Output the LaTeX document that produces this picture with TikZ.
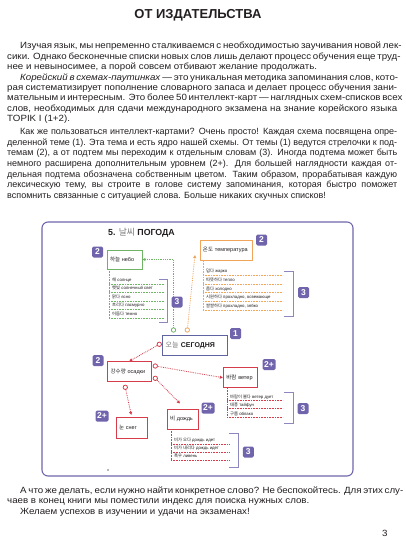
\documentclass[tikz,border=0pt]{standalone}
\usepackage{fontspec}
\setmainfont{Liberation Sans}
\newfontfamily\bodyfont[FakeStretch=1.08]{Liberation Sans}
\newfontfamily\kr{Noto Sans CJK KR}
\usetikzlibrary{arrows.meta}
\definecolor{txtC}{RGB}{35,31,32}
\definecolor{badgeC}{RGB}{112,100,172}
\definecolor{frameC}{RGB}{112,102,172}
\definecolor{brkC}{RGB}{140,135,190}
\definecolor{greenC}{RGB}{110,180,100}
\definecolor{orangeC}{RGB}{240,165,90}
\definecolor{redC}{RGB}{215,60,75}
\definecolor{centerC}{RGB}{95,100,160}
\definecolor{krgray}{RGB}{120,120,120}
\tikzset{
 body/.style={anchor=base west, inner sep=0pt, font=\bodyfont\fontsize{9}{10}\selectfont, text=txtC},
 bodyc/.style={anchor=base west, inner sep=0pt, font=\fontsize{9}{10}\selectfont, text=txtC},
 badge/.style={fill=badgeC, text=white, rounded corners=1.5pt, inner sep=0pt, minimum width=11pt, minimum height=11pt, font=\bfseries\fontsize{8.5}{8.5}\selectfont},
 wbox/.style={draw=#1, fill=white, line width=0.9pt, inner xsep=3pt, inner ysep=0pt, align=left, font=\fontsize{5.5}{6}\selectfont, text=txtC},
 item/.style={anchor=west, inner sep=0pt, font=\fontsize{4.3}{5}\selectfont, text=txtC},
 sep/.style={draw=#1, densely dotted, line width=0.6pt},
 brk/.style={draw=brkC, line width=0.8pt},
 port/.style={circle, draw=#1, fill=white, line width=0.8pt, inner sep=0pt, minimum size=4.4pt},
 link/.style={draw=#1, densely dotted, line width=0.8pt, -{Triangle[length=3pt,width=3pt]}},
}
\newcommand\jus[1]{\makebox[390pt][s]{#1}}
\begin{document}
\begin{tikzpicture}[x=1pt,y=-1pt]
\useasboundingbox (0,0) rectangle (405,540);
\fill[white] (0,0) rectangle (405,540);
% title
\node[inner sep=0pt, font=\bfseries\fontsize{13}{13}\selectfont, text=txtC] (title) at (198,15) {ОТ ИЗДАТЕЛЬСТВА};
% paragraphs 1-2
\node[body] (l1) at (7,49) {\jus{\hspace*{13pt}Изучая язык, мы непременно сталкиваемся с необходимостью заучивания новой лек-}};
\node[body] (l2) at (7,59.4) {\jus{сики. Однако бесконечные списки новых слов лишь делают процесс обучения еще труд-}};
\node[body] (l3) at (7,69.8) {нее и невыносимее, а порой совсем отбивают желание продолжать.};
\node[body] (l4) at (7,80.2) {\jus{\hspace*{13pt}\textit{Корейский в схемах-паутинках} — это уникальная методика запоминания слов, кото-}};
\node[body] (l5) at (7,90.6) {\jus{рая систематизирует пополнение словарного запаса и делает процесс обучения зани-}};
\node[body] (l6) at (7,101) {\jus{мательным и интересным. Это более 50 интеллект-карт — наглядных схем-списков всех}};
\node[body] (l7) at (7,111.4) {\jus{слов, необходимых для сдачи международного экзамена на знание корейского языка}};
\node[body] (l8) at (7,121.8) {TOPIK I (1+2).};
% paragraph 3
\node[bodyc] (m1) at (7,134.7) {\jus{\hspace*{13pt}Как же пользоваться интеллект-картами? Очень просто! Каждая схема посвящена опре-}};
\node[bodyc] (m2) at (7,145.35) {\jus{деленной теме (1). Эта тема и есть ядро нашей схемы. От темы (1) ведутся стрелочки к под-}};
\node[bodyc] (m3) at (7,156) {\jus{темам (2), а от подтем мы переходим к отдельным словам (3). Иногда подтема может быть}};
\node[bodyc] (m4) at (7,166.65) {\jus{немного расширена дополнительным уровнем (2+). Для большей наглядности каждая от-}};
\node[bodyc] (m5) at (7,177.3) {\jus{дельная подтема обозначена собственным цветом. Таким образом, прорабатывая каждую}};
\node[bodyc] (m6) at (7,187.95) {\jus{лексическую тему, вы строите в голове систему запоминания, которая быстро поможет}};
\node[bodyc] (m7) at (7,198.6) {вспомнить связанные с ситуацией слова. Больше никаких скучных списков!};
% bottom paragraphs
\node[body] (b1) at (7,493) {\jus{\hspace*{13pt}А что же делать, если нужно найти конкретное слово? Не беспокойтесь. Для этих слу-}};
\node[body] (b2) at (7,503.5) {чаев в конец книги мы поместили индекс для поиска нужных слов.};
\node[body] (b3) at (7,514) {\hspace*{13pt}Желаем успехов в изучении и удачи на экзаменах!};
\node[body] (pg) at (382,536) {3};
% frame
\draw[frameC, line width=1.1pt, rounded corners=6pt] (42,222) rectangle (353,476);
\node[anchor=west, inner sep=0pt, font=\fontsize{8.8}{9}\selectfont, text=txtC] (ftitle) at (108,233) {\textbf{5.} \textcolor{krgray}{\kr 날씨} \textbf{ПОГОДА}};
\node[inner sep=0pt, font=\fontsize{3}{3}\selectfont, text=txtC] (fpg) at (108.3,470) {8};
% --- sky (green)
\node[wbox=greenC, minimum height=19pt, text width=29pt] (sky) at (124.5,259.5) {\mbox{{\kr 하늘} небо}};
\node[badge] (bsky) at (97.5,252) {2};
\draw[sep=greenC] (109,269) -- (109,318.3);
\foreach \yy in {284.3,292.7,301,309.3,318.3} \draw[sep=greenC] (109,\yy) -- (164,\yy);
\node[item] (s1) at (112,280) {{\kr 해} солнце};
\node[item] (s2) at (112,288.3) {{\kr 햇빛} солнечный свет};
\node[item] (s3) at (112,296.7) {{\kr 맑다} ясно};
\node[item] (s4) at (112,305.3) {{\kr 흐리다} пасмурно};
\node[item] (s5) at (112,314) {{\kr 어둡다} темно};
\draw[brk] (159,279) -- (167.5,279) -- (167.5,322) -- (159,322);
% --- temperature (orange)
\node[wbox=orangeC, minimum height=20.7pt, text width=46.7pt] (temp) at (226.3,250.3) {\mbox{{\kr 온도} температура}};
\node[badge] (btemp) at (261.5,240) {2};
\draw[sep=orangeC] (203,261) -- (203,310);
\foreach \yy in {275.5,284,292.7,301.3,310} \draw[sep=orangeC] (203,\yy) -- (283,\yy);
\node[item] (t1) at (206,271.5) {{\kr 덥다} жарко};
\node[item] (t2) at (206,280) {{\kr 따뜻하다} тепло};
\node[item] (t3) at (206,288.7) {{\kr 춥다} холодно};
\node[item] (t4) at (206,297.3) {{\kr 시원하다} прохладно, освежающе};
\node[item] (t5) at (206,306) {{\kr 쌀쌀하다} прохладно, зябко};
\draw[brk] (284,271) -- (293,271) -- (293,316) -- (284,316);
\node[badge] (b3temp) at (303.5,292.5) {3};
% --- center
\node[wbox=centerC, minimum height=19.3pt, text width=58.6pt, font=\fontsize{7}{7}\selectfont] (center) at (195,345.3) {\mbox{\textcolor{krgray}{\kr 오늘} \textbf{СЕГОДНЯ}}};
\node[badge] (bcenter) at (235.5,333.5) {1};
\node[port=greenC] (gp) at (173.5,330) {};
\node[port=orangeC] (op) at (187.3,330) {};
\node[port=redC] (rp) at (159.3,344.3) {};
\coordinate (tempin) at (195,255);
\draw[link=greenC] (gp) |- (sky.east);
\draw[link=orangeC] (op) -- (tempin);
\node[badge] (b3sky) at (177,302) {3};
% --- precipitation (red)
\node[wbox=redC, minimum height=19.3pt, text width=37.3pt] (osad) at (129.3,371.3) {\mbox{{\kr 강수량} осадки}};
\node[badge] (bosad) at (98,360.5) {2};
\node[port=redC] (oe1) at (155.3,366) {};
\node[port=redC] (oe2) at (155.3,378.3) {};
\node[port=redC] (os) at (125.3,387.3) {};
\draw[link=redC] (rp) -- (osad.north);
% snow
\node[wbox=redC, minimum height=21pt, text width=25.3pt] (sneg) at (131.7,427.8) {\mbox{{\kr 눈} снег}};
\node[badge, minimum width=13pt] (bsneg) at (102,416) {2+};
\draw[link=redC, shorten >=2pt] (os) -- (sneg.north);
% rain
\node[wbox=redC, minimum height=20pt, text width=25pt] (rain) at (182.5,419) {\mbox{{\kr 비} дождь}};
\node[badge, minimum width=13pt] (brain) at (208,408) {2+};
\coordinate (rainin) at (180,403.5);
\draw[link=redC] (oe2) -- (rainin);
\draw[sep=redC] (171,429) -- (171,460);
\foreach \yy in {444,452.3,460} \draw[sep=redC] (171,\yy) -- (230,\yy);
\node[item] (r1) at (174,440) {{\kr 비가 오다} дождь идет};
\node[item] (r2) at (174,448.3) {{\kr 비가 내리다} дождь идет};
\node[item] (r3) at (174,456) {{\kr 폭우} ливень};
\draw[brk] (229,433.3) -- (238.3,433.3) -- (238.3,467.3) -- (229,467.3);
\node[badge] (b3rain) at (248.3,452) {3};
% wind
\node[wbox=redC, minimum height=20pt, text width=28pt] (wind) at (240.3,377.7) {\mbox{{\kr 바람} ветер}};
\node[badge, minimum width=13pt] (bwind) at (269,364.5) {2+};
\draw[link=redC] (oe1) -- (wind.west);
\draw[sep=redC] (227,388) -- (227,417.3);
\foreach \yy in {400,408.5,417.3} \draw[sep=redC] (227,\yy) -- (283,\yy);
\node[item] (w1) at (230,396.7) {{\kr 바람이 불다} ветер дует};
\node[item] (w2) at (230,405.2) {{\kr 태풍} тайфун};
\node[item] (w3) at (230,414) {{\kr 구름} облако};
\draw[brk] (284,392.7) -- (293.3,392.7) -- (293.3,423.3) -- (284,423.3);
\node[badge] (b3wind) at (303,408.7) {3};
\end{tikzpicture}
\end{document}
